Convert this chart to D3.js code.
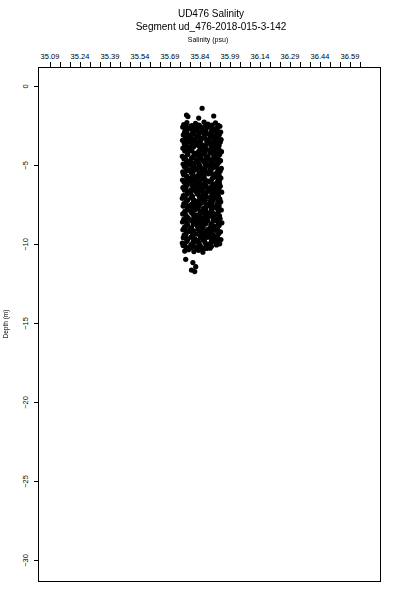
<!DOCTYPE html>
<html>
<head>
<meta charset="utf-8">
<script src="https://cdn.jsdelivr.net/npm/d3@7/dist/d3.min.js"></script>
<style>
  html, body { margin: 0; padding: 0; background: #fff; }
  svg { display: block; }
  text { font-family: "Liberation Sans", Arial, sans-serif; fill: #000; }
  .gray-aa { opacity: 0.999; }
</style>
</head>
<body>
<script>
// ---- data ----
const titleLines = ["UD476 Salinity", "Segment ud_476-2018-015-3-142"];
const xLabel = "Salinity (psu)";
const yLabel = "Depth (m)";
const xTickLabels = [35.09, 35.24, 35.39, 35.54, 35.69, 35.84, 35.99, 36.14, 36.29, 36.44, 36.59];
const xMinorTicks = [35.09,35.14,35.19,35.24,35.29,35.34,35.39,35.44,35.49,35.54,35.59,35.64,35.69,35.74,35.79,35.84,
                     35.89,35.94,35.99,36.04,36.09,36.14,36.19,36.24,36.29,36.34,36.39,36.44,36.49,36.54,36.59,36.64];
const yTicks = [0, -5, -10, -15, -20, -25, -30];

// samples (part 1)
const depthM = [
  -1.41,-1.84,-1.94,-2.03,-1.90,
  -2.45,-2.32,-2.51,-2.37,-2.49,-2.29,-2.42,-2.47,-2.34,-2.52,
  -2.60,-2.73,-2.56,-2.68,-2.62,-2.77,-2.58,-2.70,-2.64,-2.55,
  -2.95,-2.83,-2.99,-2.88,-2.93,-2.81,-3.01,-2.86,-2.97,-2.92,
  -3.10,-3.22,-3.07,-3.19,-3.12,-3.26,-3.05,-3.17,-3.24,-3.09,
  -3.44,-3.33,-3.49,-3.36,-3.47,-3.31,-3.42,-3.51,-3.35,-3.39,
  -3.61,-3.72,-3.57,-3.68,-3.63,-3.76,-3.59,-3.70,-3.66,-3.55,
  -3.94,-3.85,-3.98,-3.83,-3.96,-3.88,-4.01,-3.86,-3.92,-3.99,
  -4.11,-4.20,-4.08,-4.23,-4.13,-4.18,-4.06,-4.25,-4.10,-4.16,
  -4.45,-4.34,-4.48,-4.37,-4.42,-4.31,-4.50,-4.39,-4.46,-4.33,
  -4.60,-4.71,-4.58,-4.67,-4.62,-4.75,-4.57,-4.69,-4.64,-4.73,
  -4.94,-4.84,-4.99,-4.87,-4.92,-4.82,-5.00,-4.89,-4.96,-4.85,
  -5.10,-5.21,-5.07,-5.18,-5.12,-5.24,-5.06,-5.19,-5.14,-5.22,
  -5.44,-5.35,-5.48,-5.32,-5.43,-5.37,-5.50,-5.34,-5.46,-5.39,
  -5.61,-5.70,-5.58,-5.73,-5.63,-5.68,-5.56,-5.74,-5.60,-5.66,
  -5.95,-5.84,-5.98,-5.87,-5.92,-5.81,-6.00,-5.89,-5.96,-5.83,
  -6.10,-6.21,-6.08,-6.17,-6.12,-6.25,-6.07,-6.19,-6.14,-6.23,
  -6.44,-6.34,-6.49,-6.37,-6.42,-6.32,-6.50,-6.39,-6.46,-6.35,
  -6.60,-6.71,-6.57,-6.68,-6.63,-6.75,-6.58,-6.70,-6.64,-6.72,
  -6.94,-6.85,-6.98,-6.83,-6.96,-6.88,-7.01,-6.86,-6.92,-6.99,
  -7.11,-7.20,-7.08,-7.23,-7.13,-7.18,-7.06,-7.25,-7.10,-7.16,
  -7.45,-7.34,-7.48,-7.37,-7.42,-7.31,-7.50,-7.39,-7.46,-7.33,
  -7.60,-7.71,-7.58,-7.67,-7.62,-7.75,-7.57,-7.69,-7.64,-7.73,
  -7.94,-7.84,-7.99,-7.87,-7.92,-7.82,-8.00,-7.89,-7.96,-7.85,
  -8.10,-8.21,-8.07,-8.18,-8.12,-8.24,-8.06,-8.19,-8.14,-8.22,
  -8.44,-8.35,-8.48,-8.32,-8.43,-8.37,-8.50,-8.34,-8.46,-8.39,
  -8.61,-8.70,-8.58,-8.73,-8.63,-8.68,-8.56,-8.74,-8.60,-8.66,
  -8.95,-8.84,-8.98,-8.87,-8.92,-8.81,-9.00,-8.89,-8.96,-8.83,
  -9.10,-9.21,-9.08,-9.17,-9.12,-9.25,-9.07,-9.19,-9.14,-9.23,
  -9.44,-9.34,-9.49,-9.37,-9.42,-9.32,-9.50,-9.39,-9.46,-9.35,
  -9.60,-9.71,-9.57,-9.68,-9.63,-9.75,-9.58,-9.70,-9.64,-9.72,
  -9.94,-9.85,-9.98,-9.83,-9.96,-9.88,-10.01,-9.86,-9.92,-9.99,
  -10.10,-10.21,-10.08,-10.18,-10.12,-10.24,-10.15,
  -10.45,-10.36,-10.48,-10.40,-10.52,
  -10.97,-11.18,-11.44,-11.65,-11.75
];
const salinityPsu = [
  35.853,35.775,35.782,35.836,35.911,
  35.761,35.777,35.802,35.820,35.839,35.863,35.882,35.903,35.920,35.935,
  35.756,35.783,35.796,35.824,35.848,35.857,35.885,35.909,35.928,35.942,
  35.765,35.774,35.807,35.815,35.842,35.868,35.877,35.900,35.924,35.946,
  35.759,35.786,35.799,35.827,35.835,35.861,35.890,35.905,35.917,35.939,
  35.755,35.780,35.805,35.818,35.846,35.854,35.879,35.912,35.931,35.948,
  35.763,35.772,35.794,35.822,35.840,35.870,35.887,35.898,35.922,35.944,
  35.757,35.785,35.803,35.812,35.851,35.859,35.875,35.907,35.926,35.937,
  35.766,35.778,35.797,35.829,35.837,35.865,35.892,35.901,35.919,35.950,
  35.754,35.782,35.808,35.821,35.844,35.856,35.883,35.914,35.933,35.941,
  35.762,35.775,35.800,35.825,35.849,35.872,35.880,35.899,35.923,35.945,
  35.758,35.787,35.795,35.817,35.836,35.862,35.888,35.910,35.929,35.936,
  35.764,35.773,35.806,35.828,35.843,35.855,35.876,35.904,35.918,35.949,
  35.756,35.781,35.798,35.814,35.852,35.867,35.891,35.897,35.927,35.943,
  35.760,35.776,35.804,35.823,35.838,35.860,35.884,35.913,35.921,35.938,
  35.755,35.784,35.793,35.819,35.847,35.864,35.878,35.902,35.932,35.947,
  35.763,35.779,35.801,35.826,35.841,35.858,35.889,35.906,35.925,35.940,
  35.757,35.771,35.809,35.816,35.845,35.869,35.882,35.899,35.916,35.944,
  35.765,35.785,35.796,35.822,35.850,35.856,35.886,35.911,35.930,35.951,
  35.759,35.777,35.803,35.830,35.839,35.866,35.874,35.903,35.924,35.935,
  35.754,35.782,35.799,35.813,35.842,35.861,35.893,35.908,35.920,35.942,
  35.762,35.774,35.807,35.824,35.848,35.863,35.879,35.896,35.928,35.946,
  35.758,35.786,35.794,35.820,35.835,35.871,35.885,35.912,35.922,35.937,
  35.766,35.780,35.802,35.815,35.853,35.857,35.877,35.901,35.933,35.949,
  35.756,35.772,35.805,35.827,35.844,35.868,35.890,35.905,35.917,35.940,
  35.761,35.783,35.797,35.818,35.840,35.859,35.881,35.909,35.926,35.943,
  35.755,35.778,35.810,35.823,35.849,35.865,35.875,35.898,35.931,35.952,
  35.764,35.775,35.800,35.829,35.837,35.854,35.892,35.914,35.919,35.938,
  35.757,35.787,35.795,35.812,35.846,35.870,35.883,35.900,35.925,35.945,
  35.763,35.773,35.804,35.825,35.842,35.862,35.888,35.907,35.929,35.936,
  35.759,35.781,35.798,35.817,35.851,35.857,35.880,35.903,35.921,35.947,
  35.754,35.776,35.806,35.821,35.838,35.867,35.886,35.910,35.927,35.941,
  35.758,35.774,35.796,35.818,35.844,35.867,35.900,
  35.766,35.785,35.812,35.835,35.857,
  35.771,35.807,35.821,35.800,35.816
];

// samples (part 2)
const depthM2 = [
  -2.50,-2.56,-2.48,-2.55,-2.53,-2.49,
  -2.79,-2.74,-2.80,-2.76,-2.81,-2.75,
  -3.00,-3.05,-3.03,-2.99,-3.06,-3.01,
  -3.29,-3.25,-3.30,-3.24,-3.28,-3.26,
  -3.54,-3.50,-3.55,-3.49,-3.53,-3.57,
  -3.75,-3.80,-3.78,-3.74,-3.79,-3.76,
  -4.04,-4.00,-4.05,-3.99,-4.03,-4.06,
  -4.29,-4.25,-4.28,-4.30,-4.24,-4.27,
  -4.50,-4.55,-4.53,-4.49,-4.56,-4.51,
  -4.79,-4.75,-4.80,-4.74,-4.78,-4.76,
  -5.04,-5.00,-5.05,-4.99,-5.03,-5.06,
  -5.25,-5.30,-5.28,-5.24,-5.29,-5.26,
  -5.54,-5.50,-5.55,-5.49,-5.53,-5.57,
  -5.75,-5.80,-5.78,-5.74,-5.79,-5.76,
  -6.04,-6.00,-6.05,-5.99,-6.03,-6.06,
  -6.29,-6.25,-6.28,-6.30,-6.24,-6.27,
  -6.50,-6.55,-6.53,-6.49,-6.56,-6.51,
  -6.79,-6.75,-6.80,-6.74,-6.78,-6.76,
  -7.04,-7.00,-7.05,-6.99,-7.03,-7.06,
  -7.25,-7.30,-7.28,-7.24,-7.29,-7.26,
  -7.54,-7.50,-7.55,-7.49,-7.53,-7.57,
  -7.75,-7.80,-7.78,-7.74,-7.79,-7.76,
  -8.04,-8.00,-8.05,-7.99,-8.03,-8.06,
  -8.29,-8.25,-8.28,-8.30,-8.24,-8.27,
  -8.50,-8.55,-8.53,-8.49,-8.56,-8.51,
  -8.79,-8.75,-8.80,-8.74,-8.78,-8.76,
  -9.04,-9.00,-9.05,-8.99,-9.03,-9.06,
  -9.25,-9.30,-9.28,-9.24,-9.29,-9.26,
  -9.54,-9.50,-9.55,-9.49,-9.53,-9.57,
  -9.75,-9.80,-9.78,-9.74,-9.79,-9.76,
  -10.04,-10.00,-10.05,-9.99,-10.03,-10.06,
  -10.29,-10.25,-10.30,-10.24,-10.28,-10.27
];
const salinityPsu2 = [
  35.772,35.806,35.834,35.869,35.895,35.933,
  35.768,35.800,35.829,35.873,35.903,35.928,
  35.776,35.811,35.838,35.862,35.899,35.936,
  35.770,35.797,35.841,35.867,35.893,35.925,
  35.779,35.809,35.831,35.876,35.906,35.931,
  35.767,35.803,35.836,35.860,35.897,35.938,
  35.774,35.798,35.843,35.871,35.902,35.927,
  35.781,35.812,35.828,35.865,35.891,35.934,
  35.769,35.804,35.839,35.874,35.909,35.930,
  35.777,35.796,35.833,35.859,35.896,35.937,
  35.771,35.810,35.842,35.870,35.904,35.926,
  35.780,35.801,35.830,35.866,35.892,35.935,
  35.766,35.807,35.837,35.877,35.900,35.929,
  35.775,35.799,35.844,35.861,35.907,35.933,
  35.772,35.813,35.832,35.868,35.894,35.939,
  35.778,35.802,35.840,35.873,35.905,35.928,
  35.770,35.808,35.835,35.858,35.898,35.936,
  35.782,35.797,35.829,35.875,35.901,35.931,
  35.767,35.805,35.845,35.864,35.910,35.927,
  35.776,35.811,35.834,35.869,35.895,35.934,
  35.773,35.800,35.838,35.872,35.903,35.938,
  35.779,35.806,35.831,35.860,35.899,35.929,
  35.768,35.798,35.843,35.867,35.906,35.932,
  35.777,35.812,35.836,35.874,35.893,35.937,
  35.771,35.803,35.830,35.863,35.908,35.926,
  35.780,35.809,35.841,35.870,35.897,35.935,
  35.769,35.799,35.833,35.859,35.902,35.930,
  35.775,35.807,35.839,35.876,35.896,35.933,
  35.772,35.804,35.844,35.866,35.905,35.928,
  35.778,35.810,35.832,35.862,35.900,35.936,
  35.766,35.801,35.837,35.871,35.894,35.925,
  35.774,35.796,35.828,35.849,35.875,35.893
];

// ---- layout ----
const W = 400, H = 600;
const box = { left: 38.5, right: 380, top: 67, bottom: 581 };

const svg = d3.select("body").append("svg").attr("width", W).attr("height", H);
svg.append("rect").attr("width", W).attr("height", H).attr("fill", "#fff");

const x = d3.scaleLinear().domain([35.035, 36.7425]).range([box.left, box.right]);
const y = d3.scaleLinear().domain([1.2, -31.33]).range([box.top, box.bottom]);

const labels = svg.append("g").attr("class", "gray-aa");

// titles
labels.append("text").attr("x", 211).attr("y", 17).attr("text-anchor", "middle")
  .attr("font-size", 10).attr("fill", "#000").text(titleLines[0]);
labels.append("text").attr("x", 211).attr("y", 30).attr("text-anchor", "middle")
  .attr("font-size", 10).attr("fill", "#000").text(titleLines[1]);
labels.append("text").attr("x", 208).attr("y", 42).attr("text-anchor", "middle")
  .attr("font-size", 7).attr("fill", "#000").text(xLabel);

// top axis
const xAxis = d3.axisTop(x).tickValues(xMinorTicks).tickSize(5).tickSizeOuter(0)
  .tickFormat(d => xTickLabels.some(v => Math.abs(v - d) < 1e-6) ? d3.format(".2f")(d) : "");
const gx = svg.append("g").attr("class", "gray-aa").attr("transform", `translate(0,${box.top - 0.5})`).call(xAxis);
gx.attr("color", "#000");
gx.select(".domain").remove();
gx.selectAll("line").attr("stroke", "#000").attr("stroke-width", 1).attr("shape-rendering", "crispEdges");
gx.selectAll("text").attr("font-size", 7.5).attr("y", -8).attr("fill", "#000")
  .style("font-family", "Liberation Sans, Arial, sans-serif");

// left axis
const yAxis = d3.axisLeft(y).tickValues(yTicks).tickSize(5).tickSizeOuter(0).tickFormat(d3.format("d"));
const gy = svg.append("g").attr("class", "gray-aa").attr("transform", `translate(${box.left},0)`).call(yAxis);
gy.attr("color", "#000");
gy.select(".domain").remove();
gy.selectAll("line").attr("stroke", "#000").attr("shape-rendering", "crispEdges");
gy.selectAll("text")
  .attr("font-size", 7.5)
  .attr("x", null)
  .attr("text-anchor", "middle")
  .attr("transform", "translate(-13,0) rotate(-90)")
  .attr("y", 0)
  .attr("dy", "0.35em")
  .attr("fill", "#000")
  .style("font-family", "Liberation Sans, Arial, sans-serif");

labels.append("text")
  .attr("transform", `translate(8,${(box.top + box.bottom) / 2}) rotate(-90)`)
  .attr("text-anchor", "middle").attr("font-size", 6.5).attr("fill", "#000").text(yLabel);

// frame
svg.append("rect")
  .attr("x", box.left).attr("y", box.top)
  .attr("width", box.right - box.left).attr("height", box.bottom - box.top)
  .attr("fill", "none").attr("stroke", "#000").attr("stroke-width", 1)
  .attr("shape-rendering", "crispEdges");

// points
const pts = depthM.map((d, i) => ({ d, s: salinityPsu[i] }))
  .concat(depthM2.map((d, i) => ({ d, s: salinityPsu2[i] })));
svg.append("g").selectAll("circle").data(pts).join("circle")
  .attr("cx", p => x(p.s)).attr("cy", p => y(p.d))
  .attr("r", 2.6).attr("fill", "#000");
</script>
</body>
</html>
